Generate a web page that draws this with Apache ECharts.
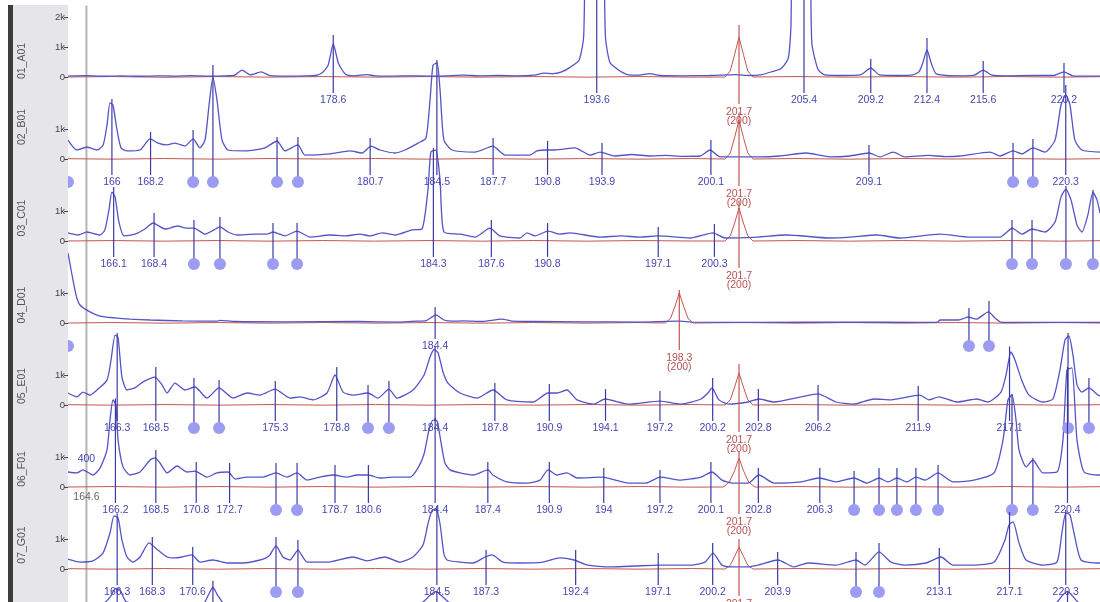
<!DOCTYPE html>
<html><head><meta charset="utf-8">
<script src="https://cdn.jsdelivr.net/npm/echarts@6.0.0/dist/echarts.min.js"></script>
<style>html,body{margin:0;padding:0;background:#fff}#c{width:1100px;height:602px}</style>
</head><body><div id="c"></div>
<script>
// ---------- data (size in bp, signal in RFU) ----------
const rowNames = ['01_A01','02_B01','03_C01','04_D01','05_E01','06_F01','07_G01',''];
const yTicks1 = [0, 1000, 2000];
const yTicksN = [0, 1000];

const trace1 = [[163.5,30],[164.5,45],[165.5,25],[166.5,40],[167.5,25],[168.5,40],[169.5,30],[170.5,45],[171.5,30],[172.5,40],[173.0,60],[173.4,230],[173.9,70],[174.5,170],[175.0,45],[176.0,30],[177.0,40],[177.6,50],[177.95,130],[178.3,380],[178.6,1100],[178.9,450],[179.3,90],[179.8,40],[180.5,80],[181.0,40],[182.0,30],[183.0,40],[184.0,30],[185.0,40],[186.0,60],[187.0,40],[188.0,50],[189.0,40],[190.0,60],[190.6,130],[191.1,110],[191.6,170],[192.1,330],[192.6,570],[192.85,1300],[193.05,4000],[193.9,4000],[194.1,1300],[194.35,480],[194.8,250],[195.3,90],[196.0,60],[196.6,110],[197.2,50],[198.5,40],[200.0,50],[201.5,80],[202.3,50],[203.0,80],[203.6,180],[204.1,280],[204.5,620],[204.65,1600],[204.8,4000],[205.65,4000],[205.85,1100],[206.2,250],[206.6,70],[207.5,50],[208.6,70],[209.2,300],[209.7,70],[210.8,50],[211.6,70],[211.95,180],[212.15,450],[212.4,900],[212.65,450],[212.9,120],[213.5,50],[214.5,40],[215.1,60],[215.6,230],[216.1,60],[217.0,40],[218.5,50],[219.6,50],[220.2,170],[220.7,40],[221.5,30],[222.25,30]];
const trace2 = [[163.5,630],[164.0,300],[164.58,400],[165.15,300],[165.5,470],[165.72,1130],[165.89,1870],[166.06,1800],[166.29,970],[166.52,370],[166.86,270],[167.6,300],[168.17,670],[168.62,530],[169.14,470],[169.59,530],[170.16,430],[170.62,670],[171.01,370],[171.3,630],[171.53,1800],[171.75,2730],[171.98,1970],[172.27,630],[172.61,300],[173.58,270],[174.71,370],[175.4,600],[175.85,270],[176.59,470],[176.99,130],[178.42,170],[179.55,270],[180.24,200],[180.75,430],[181.26,300],[182.12,200],[182.69,300],[183.43,530],[183.88,700],[184.11,1970],[184.28,3130],[184.51,3200],[184.68,2300],[184.9,630],[185.36,300],[186.67,230],[187.69,430],[188.38,130],[189.8,130],[190.2,270],[190.77,300],[191.22,300],[192.36,370],[193.22,130],[193.79,230],[194.64,100],[195.6,150],[196.63,100],[197.5,120],[198.5,90],[199.48,100],[200.05,300],[200.62,70],[202.89,70],[204.0,100],[205.51,200],[206.88,70],[208.0,100],[209.1,200],[209.73,70],[210.47,230],[211.15,70],[212.5,120],[213.5,80],[214.28,100],[215.99,230],[216.56,100],[217.3,270],[217.81,170],[218.43,370],[219.12,230],[219.69,630],[220.03,1800],[220.31,2130],[220.54,1800],[220.82,630],[221.22,300],[222.25,230]];
const trace3 = [[163.5,270],[164.07,200],[164.58,300],[165.32,200],[165.6,370],[165.83,1030],[166.0,1630],[166.18,1470],[166.4,630],[166.69,170],[167.31,230],[167.88,400],[168.34,600],[169.02,400],[169.76,500],[170.22,430],[170.67,430],[171.3,230],[171.81,370],[172.15,470],[172.61,300],[173.12,200],[174.15,230],[174.83,230],[175.17,300],[175.85,170],[176.54,330],[177.28,130],[178.42,200],[179.27,170],[180.12,230],[180.69,170],[181.38,270],[182.12,200],[183.08,370],[183.65,400],[183.99,1700],[184.16,2970],[184.45,3030],[184.68,2030],[184.9,300],[185.82,230],[186.67,130],[187.52,430],[188.09,170],[189.23,100],[189.63,270],[190.09,170],[190.83,330],[191.51,230],[192.08,270],[193.79,130],[195.0,170],[196.06,130],[197.09,170],[198.91,100],[200.22,270],[200.9,100],[202.5,120],[204.43,200],[206.88,100],[208.0,130],[209.56,200],[210.86,100],[213.14,230],[214.85,130],[216.56,130],[216.96,300],[217.24,430],[217.81,230],[218.38,400],[219.12,300],[219.69,630],[220.03,1470],[220.31,1730],[220.6,1370],[220.94,530],[221.22,300],[221.56,870],[221.85,1630],[222.08,1370],[222.25,930]];
const trace4 = [[163.5,2330],[163.73,1600],[163.96,930],[164.18,600],[164.75,370],[165.32,230],[166.17,170],[167.03,130],[168.17,100],[170.0,70],[172.0,60],[172.15,90],[173.0,50],[176.0,40],[180.0,50],[182.4,30],[183.3,60],[183.9,80],[184.45,270],[184.9,100],[185.4,60],[186.0,70],[187.0,50],[188.2,130],[188.8,60],[190.0,50],[193.0,40],[196.0,30],[198.3,60],[199.0,30],[203.0,20],[208.0,30],[212.0,20],[213.0,30],[213.15,100],[214.2,100],[214.75,200],[215.2,130],[215.9,370],[216.3,150],[216.6,30],[218.0,20],[222.25,20]];
const trace5 = [[163.5,400],[164.01,270],[164.35,430],[164.75,330],[165.15,500],[165.72,830],[165.95,1500],[166.18,2330],[166.35,2250],[166.57,930],[166.86,500],[167.31,570],[167.77,770],[168.45,930],[168.85,670],[169.14,400],[169.59,730],[170.16,500],[170.73,600],[171.41,230],[172.1,570],[172.89,230],[173.69,400],[174.43,330],[175.28,530],[176.14,230],[176.71,270],[177.45,170],[178.24,400],[178.7,1000],[179.16,430],[179.72,330],[180.58,400],[181.15,230],[181.77,530],[182.23,230],[183.14,500],[183.77,1000],[184.11,1600],[184.34,1850],[184.56,1750],[184.85,1100],[185.13,730],[185.82,400],[186.78,230],[187.69,500],[188.49,170],[189.97,100],[190.83,400],[191.34,400],[191.91,500],[192.48,170],[193.44,30],[194.07,200],[195.43,30],[197.2,130],[198.4,30],[199.54,200],[199.93,400],[200.16,570],[200.56,170],[201.13,30],[202.21,100],[202.84,200],[203.69,100],[205.23,270],[206.2,370],[207.22,100],[208.19,30],[209.38,200],[210.35,170],[212.0,330],[212.51,170],[213.08,270],[214.11,100],[215.25,200],[215.87,100],[216.61,430],[216.9,1000],[217.18,1770],[217.41,1500],[217.81,800],[218.21,330],[219.0,100],[219.57,200],[219.97,1170],[220.26,2170],[220.48,2300],[220.71,1670],[220.94,670],[221.22,430],[221.62,570],[222.13,330],[222.25,300]];
const trace6 = [[163.5,500],[164.01,470],[164.35,570],[164.92,400],[165.32,630],[165.72,1230],[165.89,2230],[166.06,2900],[166.23,2730],[166.35,1570],[166.63,670],[167.03,400],[167.6,500],[168.17,900],[168.45,970],[168.74,800],[169.14,470],[169.71,700],[170.28,500],[170.73,530],[171.41,330],[171.98,470],[172.61,500],[173.01,270],[173.69,330],[174.6,330],[175.34,470],[175.97,330],[176.54,470],[177.11,230],[177.85,330],[178.59,400],[179.38,330],[179.95,400],[180.58,400],[181.26,300],[182.0,330],[182.97,330],[183.42,630],[183.77,1100],[184.05,1900],[184.28,2230],[184.51,2200],[184.73,1500],[184.96,800],[185.25,570],[185.82,470],[186.56,400],[187.41,570],[187.69,400],[188.49,170],[189.63,130],[190.37,230],[190.83,570],[191.34,400],[191.91,470],[192.48,300],[193.9,330],[195.43,130],[196.4,130],[197.2,330],[198.4,230],[199.54,330],[200.16,500],[200.73,230],[201.3,130],[202.21,130],[202.84,400],[203.69,130],[205.23,170],[206.25,300],[207.22,170],[208.25,300],[208.99,130],[209.67,300],[210.18,170],[210.69,300],[211.26,170],[211.77,330],[212.29,230],[213.03,470],[213.88,170],[215.08,230],[216.22,470],[216.73,1570],[217.01,2900],[217.24,3070],[217.47,2230],[217.64,1230],[218.04,670],[218.43,900],[219.0,470],[219.8,500],[220.14,1570],[220.37,3900],[220.65,3970],[220.94,1570],[221.34,500],[222.13,400],[222.25,400]];
const trace7 = [[163.5,330],[164.18,230],[164.92,270],[165.49,530],[165.89,1200],[166.12,1770],[166.35,1700],[166.57,970],[166.86,400],[167.2,230],[167.6,400],[168.11,870],[168.62,630],[169.14,400],[169.59,370],[169.99,400],[170.56,470],[171.01,230],[171.75,300],[172.55,200],[173.46,200],[174.43,300],[174.94,430],[175.34,770],[175.74,400],[176.14,300],[176.59,630],[177.11,230],[178.24,230],[179.72,400],[180.52,270],[181.55,400],[182.4,230],[183.14,400],[183.71,800],[183.99,1500],[184.22,1950],[184.45,2000],[184.68,1500],[184.9,500],[185.08,300],[185.82,230],[186.56,200],[187.24,400],[187.64,470],[188.26,230],[189.23,200],[190.54,230],[191.51,370],[192.31,300],[193.1,130],[194.47,70],[195.8,100],[197.09,130],[198.97,130],[199.76,230],[200.22,530],[200.73,130],[201.3,70],[202.21,70],[202.78,130],[203.92,300],[204.83,70],[205.63,200],[207.22,130],[208.36,300],[208.87,130],[209.67,570],[210.35,230],[211.15,130],[212.34,200],[213.2,400],[213.88,130],[215.08,130],[216.22,230],[216.84,970],[217.07,1470],[217.3,1570],[217.64,870],[218.04,300],[219.0,130],[219.8,230],[220.08,1200],[220.31,1870],[220.54,1800],[220.77,1200],[221.17,300],[222.13,200],[222.25,200]];
const trace8 = [[163.5,300],[165.5,350],[165.9,1200],[166.2,2300],[166.45,2200],[166.8,600],[167.5,300],[171.2,350],[171.5,1500],[171.75,2500],[172.0,1500],[172.4,350],[175.0,300],[183.6,400],[184.1,1400],[184.45,1950],[184.8,1300],[185.3,350],[190.0,300],[200.0,250],[219.7,350],[220.1,1400],[220.4,1950],[220.7,1300],[221.1,350],[222.25,300]];

const red1 = [[163.5,0],[166,15],[169,-10],[172,15],[175,-5],[178,15],[181,-5],[184,15],[187,-5],[190,15],[193,-5],[196,15],[199,-5],[200.9,0],[201.2,200],[201.45,750],[201.7,1330],[201.95,750],[202.2,200],[202.5,0],[205,15],[208,-5],[211,15],[214,-5],[217,15],[220,-5],[222.25,10]];
const red2 = [[163.5,10],[166,-5],[169,15],[172,-5],[175,15],[178,0],[181,15],[184,-5],[187,15],[190,-5],[193,15],[196,-5],[199,15],[200.9,0],[201.2,200],[201.45,720],[201.7,1300],[201.95,720],[202.2,200],[202.5,0],[205,15],[208,-5],[211,15],[214,0],[217,15],[220,-5],[222.25,10]];
const red3 = [[163.5,0],[166,15],[169,-5],[172,15],[175,-5],[178,15],[181,-5],[184,15],[187,-5],[190,15],[193,-5],[196,15],[199,0],[200.9,0],[201.2,170],[201.45,600],[201.7,1100],[201.95,600],[202.2,170],[202.5,0],[205,15],[208,-5],[211,15],[214,-5],[217,15],[220,-5],[222.25,10]];
const red4 = [[163.5,0],[166,15],[169,-5],[172,15],[175,-5],[178,15],[181,-5],[184,15],[187,-5],[190,15],[193,-5],[196,15],[197.5,0],[197.8,150],[198.05,550],[198.3,1000],[198.55,550],[198.8,150],[199.1,0],[202,15],[205,-5],[208,15],[211,-5],[214,15],[217,-5],[220,15],[222.25,0]];
const red5 = [[163.5,10],[166,-5],[169,15],[172,-5],[175,15],[178,-5],[181,15],[184,-5],[187,15],[190,-5],[193,15],[196,-5],[199,15],[200.9,0],[201.2,170],[201.45,600],[201.7,1070],[201.95,600],[202.2,170],[202.5,0],[205,15],[208,-5],[211,15],[214,-5],[217,15],[220,-5],[222.25,10]];
const red6 = [[163.5,0],[166,15],[169,-5],[172,15],[175,-5],[178,15],[181,-5],[184,15],[187,-5],[190,15],[193,-5],[196,15],[199,-5],[200.8,0],[201.15,160],[201.45,550],[201.7,970],[201.95,550],[202.25,160],[202.6,0],[205,15],[208,-5],[211,15],[214,-5],[217,15],[220,-5],[222.25,10]];
const red7 = [[163.5,10],[166,-5],[169,15],[172,-5],[175,15],[178,-5],[181,15],[184,-5],[187,15],[190,-5],[193,15],[196,-5],[199,15],[200.9,0],[201.2,120],[201.45,420],[201.7,730],[201.95,420],[202.2,120],[202.5,0],[205,15],[208,-5],[211,15],[214,-5],[217,15],[220,-5],[222.25,10]];
const red8 = [];

// labelled peaks: [size, marker top (RFU), label]
const peaks1 = [[178.6,1400,'178.6'],[193.6,4000,'193.6'],[205.4,4000,'205.4'],[209.2,600,'209.2'],[212.4,1300,'212.4'],[215.6,530,'215.6'],[220.2,470,'220.2']];
const peaks2 = [[166.0,2000,'166'],[168.2,900,'168.2'],[180.7,700,'180.7'],[184.5,3300,'184.5'],[187.7,700,'187.7'],[190.8,600,'190.8'],[193.9,530,'193.9'],[200.1,630,'200.1'],[209.1,470,'209.1'],[220.3,2470,'220.3']];
const peaks3 = [[166.1,1800,'166.1'],[168.4,930,'168.4'],[184.3,3100,'184.3'],[187.6,700,'187.6'],[190.8,600,'190.8'],[197.1,470,'197.1'],[200.3,570,'200.3']];
const peaks4 = [[184.4,530,'184.4']];
const peaks5 = [[166.3,2400,'166.3'],[168.5,1270,'168.5'],[175.3,800,'175.3'],[178.8,1270,'178.8'],[184.4,1950,'184.4'],[187.8,730,'187.8'],[190.9,700,'190.9'],[194.1,530,'194.1'],[197.2,470,'197.2'],[200.2,900,'200.2'],[202.8,530,'202.8'],[206.2,670,'206.2'],[211.9,630,'211.9'],[217.1,1950,'217.1']];
const peaks6 = [[166.2,2950,'166.2'],[168.5,1230,'168.5'],[170.8,830,'170.8'],[172.7,800,'172.7'],[178.7,730,'178.7'],[180.6,730,'180.6'],[184.4,2300,'184.4'],[187.4,830,'187.4'],[190.9,830,'190.9'],[194.0,630,'194'],[197.2,570,'197.2'],[200.1,830,'200.1'],[202.8,630,'202.8'],[206.3,630,'206.3'],[220.4,4000,'220.4']];
const peaks7 = [[166.3,1850,'166.3'],[168.3,1070,'168.3'],[170.6,730,'170.6'],[184.5,2100,'184.5'],[187.3,630,'187.3'],[192.4,630,'192.4'],[197.1,530,'197.1'],[200.2,870,'200.2'],[203.9,570,'203.9'],[213.1,700,'213.1'],[217.1,1900,'217.1'],[220.3,1970,'220.3']];
const peaks8 = [[166.3,2350,''],[171.75,3370,''],[184.5,2000,''],[220.4,2000,'']];

// dot-marked peaks: [size, marker top (RFU)]
const dots1 = [];
const dots2 = [[163.5,-770],[170.62,970],[171.75,3130],[175.4,730],[176.59,730],[217.3,530],[218.43,670]];
const dots3 = [[170.67,700],[172.15,800],[175.17,600],[176.54,600],[217.24,700],[218.38,700],[220.31,1830],[221.85,1700]];
const dots4 = [[163.5,-770],[214.79,500],[215.93,730]];
const dots5 = [[170.67,900],[172.1,830],[180.58,670],[181.77,800],[220.43,2400],[221.62,900]];
const dots6 = [[175.34,800],[176.54,800],[208.25,530],[209.67,630],[210.69,630],[211.77,630],[213.03,730],[217.24,3100],[218.43,970]];
const dots7 = [[175.34,1070],[176.59,970],[208.36,570],[209.67,870]];
const dots8 = [];

// size-standard peak: [size, marker top, label line 1, label line 2]
const std1 = [201.7,1730,'201.7','(200)'];
const std2 = [201.7,1550,'201.7','(200)'];
const std3 = [201.7,1350,'201.7','(200)'];
const std4 = [198.3,1100,'198.3','(200)'];
const std5 = [201.7,1370,'201.7','(200)'];
const std6 = [201.7,1170,'201.7','(200)'];
const std7 = [201.7,1000,'201.7','(200)'];
const std8 = null;

// sizing reference at 164.6
const refLine = [164.55, 16050, -4000, '400', 930, '164.6', -330];

// ---------- layout ----------
const X_MIN = 163.5, X_MAX = 222.25;
const ROW_ZERO = [77,159,241,323,405,487,569,651];
const NAME_Y = [61,127,218,305,386,469,545];
const LINE_BOTTOM = -530, LABEL_AT = -770, RED_BOTTOM = -900, RED_L1 = -1170, RED_L2 = -1470;
const FONT = '10.5px "Liberation Sans", Arial, sans-serif';
const BLUE = '#5454c8', MARK = '#3a3aa6', LBL = '#4646b2', DOT = '#9c9cf2', RED = '#c4564e', REDTXT = '#b65050';

const traces = [trace1,trace2,trace3,trace4,trace5,trace6,trace7,trace8];
const reds = [red1,red2,red3,red4,red5,red6,red7,red8];
const peaks = [peaks1,peaks2,peaks3,peaks4,peaks5,peaks6,peaks7,peaks8];
const dots = [dots1,dots2,dots3,dots4,dots5,dots6,dots7,dots8];
const stds = [std1,std2,std3,std4,std5,std6,std7,std8];

const grid = [], xAxis = [], yAxis = [], series = [];
for (let i = 0; i < 8; i++) {
  grid.push({left: 68, right: 0, top: ROW_ZERO[i] - 60, height: 60});
  xAxis.push({gridIndex: i, type: 'value', min: X_MIN, max: X_MAX, show: false});
  const ticks = i === 0 ? yTicks1 : yTicksN;
  yAxis.push({gridIndex: i, type: 'value', min: 0, max: 2000, interval: 1000, z: 20, show: i < 7,
    axisLine: {show: false}, splitLine: {show: false},
    axisTick: {show: true, length: 4, customValues: ticks, lineStyle: {color: '#444', width: 1}},
    axisLabel: {color: '#444', fontSize: 9.5, margin: 3, fontFamily: 'Liberation Sans, Arial, sans-serif', customValues: ticks,
      formatter: v => v === 0 ? '0' : (v === 1000 ? '1k' : (v === 2000 && i === 0 ? '2k' : ''))}
  });
  if (reds[i].length) series.push({type: 'line', xAxisIndex: i, yAxisIndex: i, data: reds[i], showSymbol: false,
    lineStyle: {color: RED, width: 1}, z: 2, clip: false, silent: true, animation: false});
  series.push({type: 'line', xAxisIndex: i, yAxisIndex: i, data: traces[i], showSymbol: false, smooth: 0.2,
    lineStyle: {color: BLUE, width: 1.3}, z: 3, clip: false, silent: true, animation: false});
  const pk = peaks[i];
  series.push({type: 'custom', xAxisIndex: i, yAxisIndex: i, z: 4, clip: false, silent: true, animation: false,
    data: pk.map(p => [p[0], p[1]]),
    renderItem: (params, api) => {
      const p = pk[params.dataIndex];
      const a = api.coord([p[0], p[1]]), b = api.coord([p[0], LINE_BOTTOM]), t = api.coord([p[0], LABEL_AT]);
      const ch = [{type: 'line', shape: {x1: a[0], y1: a[1], x2: b[0], y2: b[1]}, style: {stroke: MARK, lineWidth: 1.2}}];
      if (p[2]) ch.push({type: 'text', x: t[0], y: t[1], style: {text: p[2], fill: LBL, font: FONT, align: 'center', verticalAlign: 'middle'}});
      return {type: 'group', children: ch};
    }});
  const dt = dots[i];
  if (dt.length) series.push({type: 'custom', xAxisIndex: i, yAxisIndex: i, z: 4, clip: false, silent: true, animation: false,
    data: dt.map(p => [p[0], p[1]]),
    renderItem: (params, api) => {
      const p = dt[params.dataIndex];
      const a = api.coord([p[0], p[1]]), b = api.coord([p[0], LABEL_AT]);
      return {type: 'group', children: [
        {type: 'line', shape: {x1: a[0], y1: a[1], x2: b[0], y2: b[1]}, style: {stroke: MARK, lineWidth: 1.2}},
        {type: 'circle', shape: {cx: b[0], cy: b[1], r: 6}, style: {fill: DOT}}
      ]};
    }});
  const sd = stds[i];
  if (sd) series.push({type: 'custom', xAxisIndex: i, yAxisIndex: i, z: 4, clip: false, silent: true, animation: false,
    data: [[sd[0], sd[1]]],
    renderItem: (params, api) => {
      const a = api.coord([sd[0], sd[1]]), b = api.coord([sd[0], RED_BOTTOM]);
      const t1 = api.coord([sd[0], RED_L1]), t2 = api.coord([sd[0], RED_L2]);
      return {type: 'group', children: [
        {type: 'line', shape: {x1: a[0], y1: a[1], x2: b[0], y2: b[1]}, style: {stroke: RED, lineWidth: 1.2}},
        {type: 'text', x: t1[0], y: t1[1], style: {text: sd[2], fill: REDTXT, font: FONT, align: 'center', verticalAlign: 'middle'}},
        {type: 'text', x: t2[0], y: t2[1], style: {text: sd[3], fill: REDTXT, font: FONT, align: 'center', verticalAlign: 'middle'}}
      ]};
    }});
}
// reference line (drawn in row 6 scale)
series.push({type: 'custom', xAxisIndex: 5, yAxisIndex: 5, z: 1, clip: false, silent: true, animation: false,
  data: [[refLine[0], refLine[1]]],
  renderItem: (params, api) => {
    const a = api.coord([refLine[0], refLine[1]]), b = api.coord([refLine[0], refLine[2]]);
    const t1 = api.coord([refLine[0], refLine[4]]), t2 = api.coord([refLine[0], refLine[6]]);
    return {type: 'group', children: [
      {type: 'line', shape: {x1: a[0], y1: a[1], x2: b[0], y2: b[1]}, style: {stroke: '#b4b4b4', lineWidth: 2}},
      {type: 'text', x: t1[0], y: t1[1], style: {text: refLine[3], fill: LBL, font: FONT, align: 'center', verticalAlign: 'middle'}},
      {type: 'text', x: t2[0], y: t2[1], style: {text: refLine[5], fill: '#666', font: FONT, align: 'center', verticalAlign: 'middle'}}
    ]};
  }});

const graphic = [
  {type: 'rect', z: 10, shape: {x: 0, y: 0, width: 68, height: 602}, style: {fill: '#fff'}},
  {type: 'rect', z: 10, shape: {x: 13, y: 5, width: 55, height: 597}, style: {fill: '#e6e6ea'}},
  {type: 'rect', z: 10, shape: {x: 8, y: 5, width: 5, height: 597}, style: {fill: '#3c3c3c'}}
];
for (let i = 0; i < 7; i++) {
  graphic.push({type: 'text', z: 15, x: 22, y: NAME_Y[i], rotation: Math.PI / 2,
    style: {text: rowNames[i], fill: '#555', font: '10.5px "Liberation Sans", Arial, sans-serif', align: 'center', verticalAlign: 'middle'}});
}

const chart = echarts.init(document.getElementById('c'), null, {renderer: 'canvas'});
chart.setOption({animation: false, backgroundColor: '#fff', grid, xAxis, yAxis, series, graphic});
</script></body></html>
